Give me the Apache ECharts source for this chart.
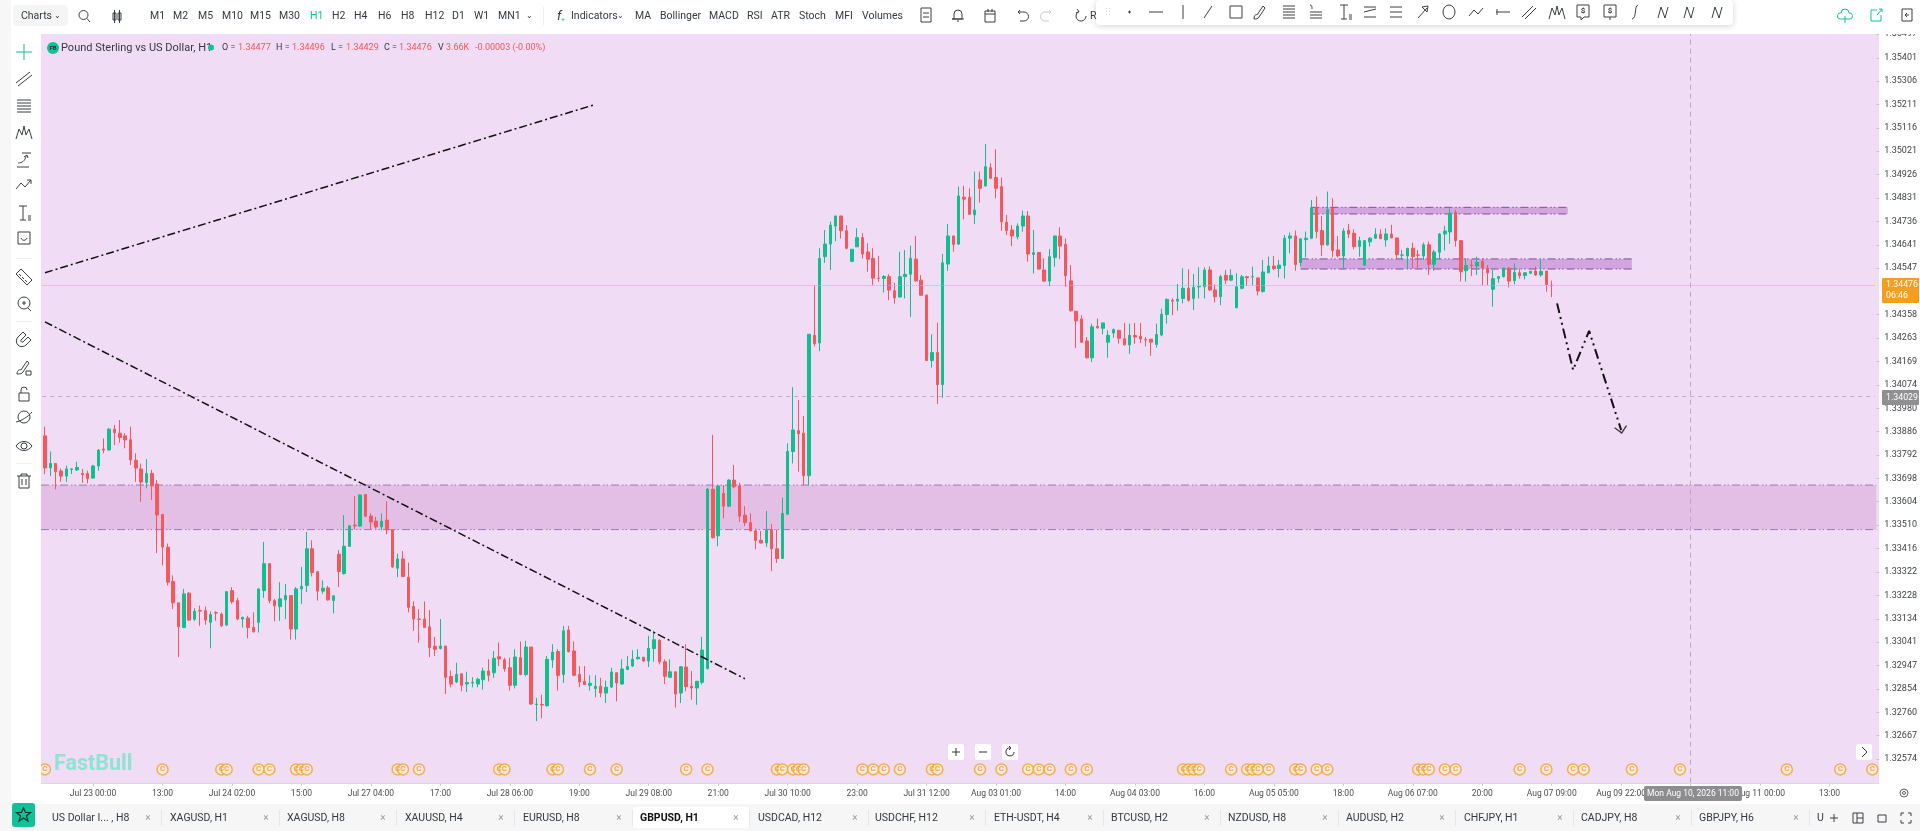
<!DOCTYPE html>
<html><head><meta charset="utf-8">
<style>html,body{margin:0;padding:0;background:#fff}#c{width:1920px;height:831px}</style>
<script src="https://cdn.jsdelivr.net/npm/echarts@6/dist/echarts.min.js"></script>
</head><body><div id="c"></div>
<script>
// ---- chart values (price x 100000) ----
const upDown =
 'rgrrgggrrg'+'grgrrrrrrg'+'rrrrrrgrgr'+'rgrrgrrgrr'+'ggrrggrggg'+'rrgrgrggrg'+'rrrgrrgrrr'+'rrrrgrrgrg'+
 'gggrgrrrgr'+'grgrggrgrr'+'rrggrggrgg'+'ggrggrrgrg'+'rrgggrgrgr'+'rrrrrgrrgg'+'grrgrggggr'+'rggrrrrgrr'+
 'gggrrrgrgg'+'rgrrgrgrrr'+'rrggrgrrgg'+'rrrrrrgrgg'+'grrgrrrrgg'+'grggrgggrr'+'grgggrgrgg'+'rgggrgggrr'+
 'grrgrrgggg'+'rgrrggrrgr'+'ggggrrgrgr'+'rgggrgrggr'+'grr';
const bodyTop = [
133869,133758,133758,133728,133736,133736,133742,133718,133718,133748,
133812,133816,133896,133896,133880,133869,133853,133771,133736,133718,
133718,133675,133553,133421,133284,133198,133234,133237,133165,133167,
133167,133151,133159,133153,133243,133247,133207,133140,133137,133099,
133254,133355,133355,133207,133214,133227,133227,133254,133264,133415,
133415,133323,133257,133258,133226,133393,133425,133507,133510,133631,
133633,133546,133526,133526,133530,133492,133374,133374,133301,133183,
133133,133133,133102,133024,133025,133025,132903,132911,132914,132879,
132880,132892,132925,132925,132976,132982,132970,132938,132981,132978,
133021,133021,132793,132791,132972,133001,133003,133086,133089,133005,
132911,132884,132876,132864,132864,132860,132921,132918,132933,132943,
132972,132980,132980,133016,133050,133048,132962,132922,132922,132942,
132941,132864,132884,133009,133655,133654,133667,133637,133691,133691,
133667,133550,133520,133487,133449,133489,133492,133415,133557,133806,
133893,133890,133880,134279,134275,134586,134644,134721,134758,134758,
134698,134623,134670,134670,134612,134586,134506,134513,134512,134455,
134512,134521,134586,134583,134498,134437,134205,134205,134568,134677,
134677,134839,134834,134834,134782,134904,134958,134954,134914,134877,
134732,134701,134717,134758,134758,134609,134610,134539,134593,134677,
134677,134643,134495,134372,134341,134252,134309,134311,134325,134275,
134298,134295,134261,134275,134274,134271,134257,134259,134278,134360,
134420,134417,134421,134465,134465,134469,134473,134539,134539,134458,
134512,134517,134517,134471,134512,134512,134512,134507,134531,134555,
134555,134559,134668,134677,134677,134665,134668,134792,134792,134699,
134783,134788,134620,134697,134699,134688,134658,134658,134668,134684,
134684,134685,134684,134669,134600,134626,134627,134600,134641,134641,
134612,134685,134697,134769,134773,134658,134558,134559,134570,134574,
134546,134504,134512,134546,134546,134530,134528,134528,134534,134535,
134534,134535,134477];
const bodyBottom = [
133740,133740,133725,133707,133707,133734,133732,133713,133697,133699,
133748,133812,133812,133882,133863,133853,133772,133740,133683,133682,
133668,133551,133422,133281,133198,133102,133099,133129,133132,133165,
133129,133120,133157,133106,133109,133203,133133,133133,133099,133082,
133120,133247,133207,133186,133183,133210,133093,133093,133254,133268,
133320,133245,133245,133210,133207,133324,133315,133425,133507,133506,
133546,133523,133503,133503,133492,133342,133337,133304,133180,133133,
133132,133099,133019,133012,133015,132900,132873,132881,132868,132873,
132877,132873,132890,132908,132918,132973,132934,132868,132868,132911,
132911,132793,132791,132789,132786,132969,132908,132911,133003,132908,
132881,132871,132868,132855,132837,132837,132861,132877,132873,132931,
132945,132974,132965,132965,133015,132962,132904,132900,132833,132837,
132863,132857,132857,132880,132935,133460,133467,133586,133586,133664,
133546,133520,133487,133449,133438,133438,133415,133376,133376,133554,
133806,133878,133709,133709,134241,134244,134593,134644,134717,134698,
134627,134574,134633,134604,134583,134506,134505,134505,134458,134426,
134430,134512,134522,134495,134437,134173,134173,134076,134076,134563,
134643,134644,134826,134765,134763,134870,134880,134911,134870,134735,
134698,134677,134674,134717,134604,134602,134543,134494,134494,134590,
134636,134516,134374,134333,134247,134184,134184,134305,134303,134247,
134284,134263,134236,134236,134268,134260,134256,134247,134238,134276,
134359,134413,134413,134424,134417,134424,134471,134471,134458,134431,
134431,134498,134498,134386,134465,134508,134511,134454,134452,134528,
134545,134545,134557,134668,134561,134569,134662,134668,134695,134641,
134641,134618,134596,134596,134685,134634,134634,134559,134653,134668,
134666,134661,134669,134601,134599,134596,134593,134599,134596,134562,
134562,134611,134685,134693,134658,134532,134536,134557,134555,134549,
134528,134461,134505,134512,134494,134496,134517,134517,134526,134519,
134519,134480,134476];
const highs = [
133906,133806,133758,133738,133749,133738,133765,133736,133729,133752,
133815,133859,133901,133913,133933,133880,133906,133799,133758,133775,
133732,133691,133553,133436,133308,133198,133254,133241,133177,133187,
133183,133164,133164,133159,133245,133261,133218,133142,133146,133160,
133254,133442,133358,133214,133281,133274,133227,133261,133342,133483,
133449,133323,133288,133266,133226,133409,133550,133510,133627,133633,
133633,133557,133543,133557,133606,133492,133395,133406,133359,133204,
133173,133203,133169,133062,133133,133025,132927,132958,132914,132922,
132900,132898,132938,132972,133005,133039,132978,132978,133012,133043,
133046,133021,132817,132830,132985,133032,133012,133106,133106,133043,
132945,132945,132908,132908,132898,132887,132938,132918,132972,132985,
133008,133012,132980,133066,133086,133052,132972,132972,132922,132945,
133032,132925,132884,133062,133658,133873,133671,133671,133694,133752,
133680,133586,133557,133496,133487,133567,133514,133492,133621,133839,
134065,134014,133949,134279,134478,134627,134701,134735,134758,134758,
134721,134623,134708,134688,134647,134627,134596,134518,134522,134487,
134613,134620,134638,134677,134518,134440,134279,134326,134604,134725,
134677,134877,134880,134870,134938,134938,135050,134972,135029,134914,
134762,134721,134728,134780,134778,134701,134610,134586,134624,134677,
134712,134667,134559,134372,134356,134268,134322,134343,134325,134295,
134302,134295,134325,134322,134325,134325,134268,134259,134322,134383,
134424,134424,134482,134546,134542,134523,134550,134550,134553,134481,
134519,134539,134542,134526,134519,134515,134553,134509,134580,134593,
134596,134580,134681,134691,134699,134668,134695,134823,134837,134758,
134857,134830,134677,134708,134726,134704,134674,134661,134672,134708,
134704,134708,134722,134669,134620,134630,134650,134620,134650,134654,
134620,134688,134718,134789,134783,134661,134586,134580,134593,134586,
134559,134539,134515,134549,134550,134566,134545,134528,134535,134553,
134580,134535,134496];
const lows = [
133715,133707,133654,133684,133683,133715,133728,133680,133678,133697,
133729,133799,133810,133832,133842,133819,133752,133684,133604,133658,
133611,133398,133348,133268,133173,132981,133097,133126,133126,133106,
133110,133016,133126,133102,133106,133194,133129,133099,133056,133079,
133079,133218,133196,133124,133126,133133,133051,133051,133194,133241,
133304,133207,133234,133207,133156,133261,133312,133422,133492,133503,
133543,133493,133496,133489,133473,133339,133301,133301,133160,133086,
133039,133097,132981,132985,133012,132833,132860,132877,132844,132841,
132860,132860,132851,132884,132898,132945,132922,132847,132855,132908,
132904,132790,132725,132736,132783,132938,132847,132877,132999,132904,
132860,132871,132847,132820,132820,132797,132857,132804,132871,132930,
132941,132972,132962,132941,132962,132951,132873,132898,132779,132797,
132844,132810,132790,132871,132931,133456,133425,133537,133584,133658,
133523,133506,133484,133413,133436,133422,133325,133358,133374,133551,
133758,133725,133671,133671,134230,134211,134568,134539,134656,134667,
134623,134571,134633,134586,134532,134478,134491,134448,134417,134403,
134426,134424,134349,134491,134435,134171,134144,133998,134022,134536,
134613,134640,134744,134762,134725,134812,134877,134907,134830,134698,
134681,134636,134663,134694,134573,134525,134539,134491,134474,134552,
134583,134471,134371,134223,134244,134182,134167,134302,134279,134184,
134265,134241,134234,134200,134241,134244,134230,134192,134225,134271,
134322,134356,134374,134404,134411,134377,134424,134424,134455,134408,
134397,134482,134494,134385,134461,134474,134478,134436,134447,134526,
134539,134509,134505,134607,134536,134553,134590,134664,134668,134596,
134637,134590,134590,134546,134668,134623,134593,134555,134634,134665,
134664,134634,134668,134582,134580,134546,134546,134546,134580,134519,
134536,134582,134618,134645,134634,134492,134492,134515,134519,134478,
134478,134390,134488,134509,134469,134481,134504,134501,134523,134515,
134512,134451,134429];
const timeTicks = ['Jul 23 00:00','13:00','Jul 24 02:00','15:00','Jul 27 04:00','17:00','Jul 28 06:00','19:00','Jul 29 08:00','21:00','Jul 30 10:00','23:00','Jul 31 12:00','Aug 03 01:00','14:00','Aug 04 03:00','16:00','Aug 05 05:00','18:00','Aug 06 07:00','20:00','Aug 07 09:00','Aug 09 22:00','Aug 10 11:00','Aug 11 00:00','13:00'];
const priceTicks = [1.35497,1.35401,1.35306,1.35211,1.35116,1.35021,1.34926,1.34831,1.34736,1.34641,1.34547,1.34358,1.34263,1.34169,1.34074,1.33980,1.33886,1.33792,1.33698,1.33604,1.33510,1.33416,1.33322,1.33228,1.33134,1.33041,1.32947,1.32854,1.32760,1.32667,1.32574];
const calendarBars = [0,22,33,34,40,42,47,48,49,66,67,70,85,86,95,96,102,107,120,124,137,138,140,141,142,153,155,157,160,166,167,175,179,184,186,188,192,195,213,214,215,216,222,225,226,227,229,234,235,238,240,257,258,259,262,264,276,281,286,288,297,306,326,336,342];
const zones = [[0,342,133492,133671,1],[237,285,134766,134793,0],[235,297,134543,134584,0]];
const trendUp = [[0,134528],[103,135211]];
const trendDown = [[0,134329],[131,132894]];
const forecast = [[283,134404],[286,134135],[289,134293],[295,133892]];
const lastPrice = 1.34476, crossPrice = 1.34029, crossBar = 308, calendarLevel = 1.32532;

const BAR_SLOTS = 343;
const categories = new Array(BAR_SLOTS).fill('');
timeTicks.forEach((t,k)=>{categories[9+13*k]=t;});
const isTick = i => i>=9 && (i-9)%13===0;
const candles = upDown.split('').map((d,i)=> (d==='g'
  ? [bodyBottom[i],bodyTop[i],lows[i],highs[i]]
  : [bodyTop[i],bodyBottom[i],lows[i],highs[i]]).map(v=>v/1e5));
const pts = a => a.map(p=>[p[0],p[1]/1e5]);

// ---- page chrome helpers ----
const FONT = '"Roboto",sans-serif';
const INK='#333a42', GREEN='#11c197', RED='#f4565b';
const g=[];
const rect=(x,y,w,h,fill,z,r,extra)=>g.push(Object.assign({type:'rect',silent:true,z:z==null?200:z,shape:{x,y,width:w,height:h,r:r||0},style:{fill}},extra||{}));
const txt=(x,y,text,size,fill,align,weight)=>g.push({type:'text',silent:true,z:210,x,y,style:{text,font:`${weight||'normal'} ${size}px ${FONT}`,fill:fill||INK,align:align||'left',verticalAlign:'middle'}});
let icoCount=0; const icoNames={};
const icoType=d=>{ if(!icoNames[d]){ const n='ico'+(icoCount++); echarts.graphic.registerShape(n,echarts.graphic.extendPath(d,{})); icoNames[d]=n; } return icoNames[d]; };
const ico=(x,y,d,stroke,s,lw)=>g.push({type:icoType(d),silent:true,z:210,x,y,scaleX:s||1,scaleY:s||1,shape:{},style:{fill:'none',stroke:stroke||'#3a3f46',lineWidth:lw||1}});

// plot background + frames
rect(41,34,1838,749,'#f0dcf4',-10);
rect(0,0,1920,34,'#ffffff');           // top toolbar
rect(0,34,41,770,'#ffffff');           // left toolbar
rect(0,0,11,831,'#f7f7f8');
rect(0,804,1920,27,'#f6f6f7');         // tab strip
rect(41,783,1838,1,'#dcd6de');

// top bar
rect(13,5,55,21,'#f5f5f6',201,4);
txt(21,16.5,'Charts',10.5,INK); txt(57,16,'⌄',8,INK,'center');
ico(84,15,'M4 0A4.5 4.5 0 1 1 -5 0A4.5 4.5 0 1 1 4 0M3 3.5L6 7');
ico(117,16,'M-4-3H-1V4H-4ZM-2.5-6V7M1-3H4V4H1ZM2.5-6V7','#3a3f46');
[['M1',150],['M2',173],['M5',198],['M10',222],['M15',250],['M30',279],['H1',310],['H2',332],['H4',354],['H6',378],['H8',401],['H12',425],['D1',452],['W1',474],['MN1',498]].forEach(a=>txt(a[1],16.5,a[0],10.5,a[0]==='H1'?GREEN:INK));
txt(529,16,'⌄',8,INK,'center');
rect(543,7,1,18,'#eeeeee',201);
txt(557,16.5,'f',13,INK,'left','italic'); txt(561,20,'+',7,GREEN);
txt(571,16.5,'Indicators',10.5,INK); txt(620,16,'⌄',8,INK,'center');
[['MA',635],['Bollinger',660],['MACD',709],['RSI',747],['ATR',771],['Stoch',799],['MFI',835],['Volumes',862]].forEach(a=>txt(a[1],16.5,a[0],10.5,INK));
ico(926,15,'M-5-7H5V7H-5ZM-3-2H3M-3 2H3');
ico(958,15,'M-4 4V-1A4 4 0 0 1 4-1V4H-6H6M-1 6H1');
ico(990,16,'M-5-5H5V6H-5ZM-5-2H5M-2-7V-4M2-7V-4');
ico(1023,15,'M-3-5L-5-3L-3-1M-5-3H1A4 4 0 0 1 1 6H-3');
ico(1046,15,'M3-5L5-3L3-1M5-3H-1A4 4 0 0 0 -1 6H3','#c9c9cc');
ico(1081,16,'M5 0A5 5 0 1 1 -2-4.5M-4-7L-2-4.5L-5-3');
txt(1090,16.5,'R',10.5,INK);
// floating drawing toolbar
rect(1096,0,637,25,'#ffffff',205,4,{style:{fill:'#fff',shadowBlur:6,shadowColor:'rgba(0,0,0,.18)',shadowOffsetY:1}});
const fx=[[1106.5,'M0-4V-3.5M0-1V-.5M0 2V2.5M3-4V-3.5M3-1V-.5M3 2V2.5','#bbb'],
[1129.5,'M-1.5 0H1.5M0-1.5V1.5',null],[1156,'M-7 0H7',null],[1183,'M0-7V7',null],[1208,'M-4 6L4-6',null],
[1236,'M-6-6H6V6H-6Z',null],[1260,'M-6 7C-6 3-4 2-3 3L3-6L5-4L-1 5C-2 7-4 7-6 7Z',null],[1289,'M-6-6H6M-6-3H6M-6 0H6M-6 3H6M-6 6H6',null],
[1316,'M-6-7C-4-7-4-5-4-3M-6 0H6M-6 3H6M-6 6H6',null],[1345,'M-5-7H3M-1-7V7M-4 7H2M4 3H7M4 5H7M4 7H7',null],[1370,'M-6-5H6M-6 0L6-3M-6 5H6',null],
[1396,'M-6-5H6M-6 0H6M-6 5H6',null],[1423,'M-5 6L4-4M-1-5L5-6L4 0Z',null],[1449,'M6 0A6 7 0 1 1 -6 0A6 7 0 1 1 6 0',null],[1476,'M-7 4L-2-2L2 2L7-4',null],
[1503,'M-7 0H7M-6-3V3',null],[1529,'M-7 5L4-6M-4 7L7-4',null],[1557,'M-8 7L-5-4L-2 3L0-6L2 3L5-4L8 7',null],[1583,'M-6-7H6V5H1L-2 8V5H-6Z',null],
[1610,'M-6-7H6V5H-6ZM0 5V8',null],[1635,'M3-7C-1-6 2 6-3 7',null],[1663,'M-5 6L-2-5L2 6L5-5',null],[1689,'M-5 6L-2-5L2 6L5-5',null],[1717,'M-5 6L-2-5L2 6L5-5',null]];
fx.forEach(a=>ico(a[0],12,a[1],a[2]||'#3a3f46'));
[['$',1583],['$',1610]].forEach(a=>txt(a[1],11,a[0],8,INK,'center','bold'));
ico(1845,16,'M-5 3A3 3 0 0 1 -4-3A4 4 0 0 1 4-3A3 3 0 0 1 5 3H-5M0 0V7',GREEN);
ico(1876,15,'M-5-5H1M-5-5V6H5V0M1 0L6-6M3-6H6V-3',GREEN);
ico(1907,15,'M-5-6H5V6H-5ZM2 0H-2M0-2L-2 0L0 2');

// left toolbar
const lt=[[52,'M-8 0H8M0-8V8',GREEN],[78,'M-8 5L6-6M-6 8L8-3'],[106,'M-7-6H7M-7-3H7M-7 0H7M-7 3H7M-7 6H7'],[132,'M-8 7L-5-3L-2 3L0-6L2 3L5-3L8 7'],
[160,'M-7 7H5M-6 3C-2 3 1 1 2-4M0-3L3-5L4-2M-2-7H7'],[185,'M-8 4L-3-2L1 2L7-5M3-5H7V-1'],[213,'M-5-7H3M-1-7V7M-4 7H2M4 3H7M4 5H7M4 7H7'],[238,'M-6-6H6V6H-6ZM-3 0C-2 3 2 3 3 0'],
[277,'M-8-3L-3-8L8 3L3 8ZM-5-3L-3-1M-2 0L0 2M1 3L3 5'],[303,'M6 0A6 6 0 1 1 -6 0A6 6 0 1 1 6 0M-2 0H2M0-2V2M4 5L7 8'],[338,'M-6-1A5.5 5.5 0 0 0 2 7L7 2L4-1L-1 4A1.5 1.5 0 0 1 -3 2L2-3L-1-6Z'],
[367,'M-7 7C-7 3-4 2-3 3L3-6L5-4L-1 5C-2 7-5 7-7 7ZM2 4H7V8H2Z'],[394,'M-5-1H5V7H-5ZM-3-1V-4A3 3 0 0 1 3-4'],[417,'M6 0A6 6 0 1 1 -6 0A6 6 0 1 1 6 0M-8 5C-3 4 4 0 8-5'],[446,'M-8 0C-4-6 4-6 8 0C4 6-4 6-8 0ZM3 0A3 3 0 1 1 -3 0A3 3 0 1 1 3 0'],[481,'M-7-5H7M-3-5V-7H3V-5M-5-5V7H5V-5M-2-2V4M2-2V4']];
lt.forEach(a=>ico(24,a[0],a[1],a[2]));
[258,321,463].forEach(y=>rect(16,y,16,1,'#f0f0f0',201));

// title row
g.push({type:'circle',silent:true,z:210,shape:{cx:53,cy:48,r:6},style:{fill:GREEN}});
txt(53,48,'FB',6,'#15342c','center','bold');
txt(61,48,'Pound Sterling vs US Dollar, H1',11,INK);
g.push({type:'circle',silent:true,z:210,shape:{cx:211,cy:47.5,r:3},style:{fill:GREEN}});
[['O =',222,INK],['1.34477',238,RED],['H =',276,INK],['1.34496',292,RED],['L =',331,INK],['1.34429',346,RED],['C =',384,INK],['1.34476',399,RED],['V',438,INK],['3.66K',446,RED],['-0.00003 (-0.00%)',475,RED]].forEach(a=>txt(a[1],48,a[0],9,a[2]));

// watermark, plot buttons
txt(54,765,'FastBull',21.5,'#8fe3d3','left','bold');
[[948,'M-4 0H4M0-4V4'],[975,'M-4 0H4'],[1002,'M4 0A4 4 0 1 1 1-4M-1-6L1-4L-1-2'],[1856,'M-2-5L3 0L-2 5']].forEach(a=>{rect(a[0],744,16,16,'#ffffff',205,2);ico(a[0]+8,752,a[1],'#333');});

// price / crosshair tags
rect(1882,278,37,25,'#f59d20',205,1);
txt(1886,285,'1.34476',8.8,'#fff'); txt(1886,296,'06:46',8.8,'#fff');
rect(1882,390,37,15,'#8f8f91',205,1);
txt(1886,397.5,'1.34029',8.8,'#fff');
rect(1644,786,98,15,'#8d8d8f',205,2);
txt(1693,793.5,'Mon Aug 10, 2026 11:00',8.5,'#fff','center');
ico(1904,793,'M4 0A4 4 0 1 1 -4 0A4 4 0 1 1 4 0M1.5 0A1.5 1.5 0 1 1 -1.5 0A1.5 1.5 0 1 1 1.5 0','#5d6066');

// tab strip
rect(12,803,23,24,GREEN,205,3);
ico(23.5,815,'M0-7L2-2.5H7L3 .8L4.5 6L0 3L-4.5 6L-3 .8L-7-2.5H-2Z','#14342c',1,1.2);
rect(633,807,116,21,'#ffffff',202,3);
const tabs=[['US Dollar I... , H8',52,148],['XAGUSD, H1',170,266],['XAGUSD, H8',287,383],['XAUUSD, H4',405,501],['EURUSD, H8',523,619],['GBPUSD, H1',640,736],['USDCAD, H12',758,855],['USDCHF, H12',875,972],['ETH-USDT, H4',994,1090],['BTCUSD, H2',1111,1207],['NZDUSD, H8',1228,1325],['AUDUSD, H2',1346,1442],['CHFJPY, H1',1464,1560],['CADJPY, H8',1581,1678],['GBPJPY, H6',1699,1796]];
tabs.forEach(t=>{txt(t[1],818.5,t[0],10.5,t[0]==='GBPUSD, H1'?'#111':INK,'left',t[0]==='GBPUSD, H1'?'bold':'normal');txt(t[2],818.5,'×',10,'#9a9a9f','center');rect(t[2]+13,810,1,16,'#e7e7ea',201);});
txt(1817,818.5,'U',10.5,INK);
ico(1834,818,'M-4 0H4M0-4V4'); ico(1858,818,'M-5-5H5V5H-5ZM-1-5V5M-1 0H5'); ico(1882,818,'M-4-3H4V4H-4Z'); ico(1906,818,'M-5-2V-5H-2M2-5H5V-2M5 2V5H2M-2 5H-5V2');

const DASHDOT=[8,3,1.5,2,1.5,3];
const chart=echarts.init(document.getElementById('c'),null,{renderer:'canvas'});
chart.setOption({
  animation:false,
  backgroundColor:'#ffffff',
  graphic:{elements:g},
  grid:{left:42.3,top:34,width:1835.4,height:748.7,containLabel:false,show:false},
  xAxis:{type:'category',data:categories,boundaryGap:true,
    axisLine:{show:false},
    axisTick:{show:true,length:3,alignWithLabel:true,interval:i=>isTick(i),lineStyle:{color:'#c9c4cc'}},
    axisLabel:{interval:i=>isTick(i),margin:7,fontSize:8.5,fontFamily:FONT,color:'#4a4d52'},
    splitLine:{show:false}},
  yAxis:{type:'log',logBase:10,position:'right',min:1.32479,max:1.35498,offset:1.3,
    axisLine:{show:false},
    axisTick:{show:true,length:3,customValues:priceTicks,lineStyle:{color:'#c9c4cc'}},
    axisLabel:{show:true,customValues:priceTicks,margin:8,fontSize:9,fontFamily:FONT,color:'#3f4246',formatter:v=>Number(v).toFixed(5)},
    splitLine:{show:false}},
  series:[
    {type:'custom',name:'zones',z:1,clip:false,silent:true,data:zones.map(r=>[r[0],r[1],r[2]/1e5,r[3]/1e5,r[4]]),
     encode:{x:[0,1],y:[2,3]},
     renderItem:(params,api)=>{
       const a=api.coord([api.value(0),api.value(3)]), b=api.coord([api.value(1),api.value(2)]);
       const full=api.value(4)===1, cs=params.coordSys;
       const x0=full?cs.x-1.3:a[0], x1=full?cs.x+cs.width+1.3:b[0];
       const fill=full?'#e3bfe6':'#d2a5de';
       const stroke=full?'#9a78bb':'#7f4fa0';
       const ln=y=>({type:'line',shape:{x1:x0,y1:y,x2:x1,y2:y},style:{stroke,lineWidth:1,lineDash:DASHDOT}});
       return {type:'group',children:[{type:'rect',shape:{x:x0,y:a[1],width:x1-x0,height:b[1]-a[1]},style:{fill}},ln(a[1]),ln(b[1])]};
     }},
    {type:'candlestick',name:'GBPUSD, H1',z:3,data:candles,barWidth:3,silent:true,
     itemStyle:{color:'#10bf8c',color0:'#f4575c',borderColor:'#10bf8c',borderColor0:'#f4575c',borderWidth:1},
     markLine:{silent:true,symbol:'none',precision:5,label:{show:false},animation:false,data:[
       {yAxis:lastPrice,lineStyle:{color:'#e8ad6c',type:[1,1],width:1}},
       {yAxis:crossPrice,lineStyle:{color:'#c5a9c8',type:[4,4],width:1}},
       {xAxis:crossBar,lineStyle:{color:'#bfa5c3',type:[5,4],width:1}}]}},
    {type:'line',name:'trend up',z:4,silent:true,symbol:'none',data:pts(trendUp),lineStyle:{color:'#111',width:1.5,type:[8,3,2,3]}},
    {type:'line',name:'trend down',z:4,silent:true,symbol:'none',data:pts(trendDown),lineStyle:{color:'#111',width:1.5,type:[8,3,2,3]}},
    {type:'line',name:'forecast',z:4,silent:true,symbol:'none',data:pts(forecast),lineStyle:{color:'#111',width:2,type:[10,4,2,4,2,4]}},
    {type:'scatter',name:'forecast tip',z:4,silent:true,data:pts(forecast.slice(-1)),
     symbol:'path://M0 0L10 11L20 0L18.5 -1.5L10 7.5L1.5 -1.5Z',symbolSize:[13,8],symbolRotate:10,itemStyle:{color:'#111'}},
    {type:'scatter',name:'calendar',z:5,silent:true,symbol:'circle',symbolSize:11,
     data:calendarBars.map(b=>[b,calendarLevel]),
     itemStyle:{color:'#fbecd8',borderColor:'#f5a12a',borderWidth:1.5},
     label:{show:true,position:'inside',formatter:'C',fontSize:8,fontWeight:'bold',color:'#f09a1f',fontFamily:'Roboto'}}
  ]
});
</script></body></html>
